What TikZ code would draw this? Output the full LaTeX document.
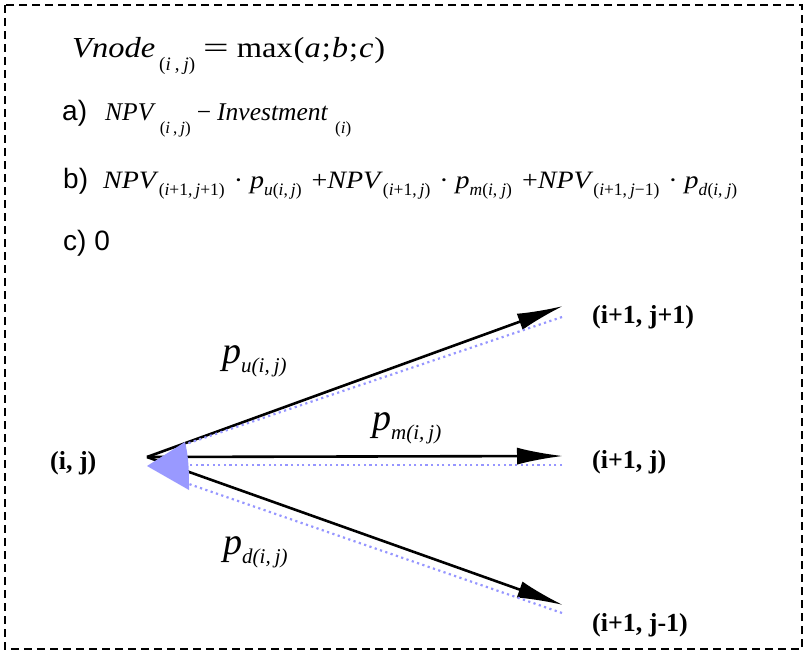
\documentclass[tikz,border=0pt]{standalone}
\usepackage{fontspec}
\setmainfont{Liberation Serif}
\newfontfamily\arialf{Liberation Sans}
\newfontfamily\widef[FakeStretch=1.12]{Liberation Serif}
\usetikzlibrary{arrows.meta}
\definecolor{dotblue}{RGB}{150,150,255}
\definecolor{triblue}{RGB}{153,153,255}
% lowered subscript: #1 = drop, #2 = size, #3 = text
\newcommand\lsub[3]{\raisebox{-#1pt}{\fontsize{#2}{#2}\selectfont #3}}
\newcommand\psub[1]{\raisebox{-9pt}{\fontsize{21}{21}\selectfont\textit{#1}}}
\newcommand\gsp{\hspace{4pt}}
\begin{document}
\begin{tikzpicture}[x=1pt,y=-1pt,
  label/.style={anchor=base west, inner sep=0pt, font=\fontsize{28}{32}\selectfont\arialf},
  formula/.style={anchor=base west, inner sep=0pt},
  statelbl/.style={anchor=west, inner sep=0pt, font=\fontsize{26}{30}\selectfont\bfseries},
  plbl/.style={anchor=base west, inner sep=0pt, font=\fontsize{38}{40}\selectfont\itshape},
  branch/.style={line width=2.6pt, -{Latex[length=46pt,width=17pt]}},
  backline/.style={dotblue, line width=2.2pt, dash pattern=on 2.2pt off 3.4pt},
  frame/.style={line width=1.6pt, dash pattern=on 8pt off 5pt}
]
\useasboundingbox (0,0) rectangle (806,653);
\draw[frame] (5,5) rectangle (802,649);

% line 1
\node[formula, font=\fontsize{29}{32}\selectfont\widef] (f0) at (72,57)
  {\textit{Vnode}\hspace{4pt}\lsub{13}{19}{\rmfamily(\textit{i}\hspace{4pt},\hspace{4pt}\textit{j})}\hspace{8pt}\scalebox{1.4}[1]{=}\hspace{8pt}max\hspace{1pt}(\textit{a}\hspace{1pt};\hspace{1pt}\textit{b}\hspace{1pt};\hspace{1pt}\textit{c}\hspace{1pt})};

% line a
\node[label] (la) at (62,120) {a)};
\node[formula, font=\fontsize{25.5}{28}\selectfont] (fa) at (105,120)
  {\textit{NPV}\hspace{4pt}\lsub{13}{17}{(\textit{i}\hspace{3pt},\hspace{3pt}\textit{j})}\hspace{6pt}−\hspace{6pt}\textit{Investment}\hspace{7pt}\lsub{13}{17}{(\textit{i})}};

% line b
\node[label] (lb) at (63,188) {b)};
\node[formula, font=\fontsize{25}{28}\selectfont\widef] (fb) at (103,188)
  {\textit{NPV}\lsub{7}{17.5}{\rmfamily(\textit{i}+1,\hspace{3pt}\textit{j}+1)}\hspace{9pt}·\hspace{7pt}\textit{p}\lsub{7}{17.5}{\rmfamily\textit{u}(\textit{i},\hspace{3pt}\textit{j})}\hspace{10pt}+\textit{NPV}\lsub{7}{17.5}{\rmfamily(\textit{i}+1,\hspace{3pt}\textit{j})}\hspace{9pt}·\hspace{7pt}\textit{p}\lsub{7}{17.5}{\rmfamily\textit{m}(\textit{i},\hspace{4pt}\textit{j})}\hspace{10pt}+\textit{NPV}\lsub{7}{17.5}{\rmfamily(\textit{i}+1,\hspace{3pt}\textit{j}−1)}\hspace{9pt}·\hspace{7pt}\textit{p}\lsub{7}{17.5}{\rmfamily\textit{d}(\textit{i},\hspace{4pt}\textit{j})}};

% line c
\node[label] (lc) at (63,250) {c) 0};

% state labels
\node[statelbl] (n0) at (50,463) {(i, j)};
\node[statelbl] (n1) at (592,317) {(i+1, j+1)};
\node[statelbl] (n2) at (592,462) {(i+1, j)};
\node[statelbl] (n3) at (592,625) {(i+1, j-1)};

% geometry
\coordinate (o) at (147,457);
\coordinate (t1) at (563,306);
\coordinate (t2) at (563,456);
\coordinate (t3) at (563,605);
\coordinate (b1s) at (562,317);
\coordinate (b2s) at (562,465);
\coordinate (b3s) at (562,613);
\coordinate (b1e) at (186,444);
\coordinate (b2e) at (186,465);
\coordinate (b3e) at (186,483);

\draw[branch] (o) -- (t1);
\draw[branch] (o) -- (t2);
\draw[branch] (o) -- (t3);
\draw[backline] (b1s) -- (b1e);
\draw[backline] (b2s) -- (b2e);
\draw[backline] (b3s) -- (b3e);
\fill[triblue] (147,466) -- (185,442) .. controls (189,458) and (189,474) .. (189,490) -- cycle;

% probability labels
\node[plbl] (pu) at (222,363) {p\psub{u(i,\gsp j)}};
\node[plbl] (pm) at (372,430) {p\psub{m(i,\gsp j)}};
\node[plbl] (pd) at (223,554) {p\psub{d(i,\gsp j)}};
\end{tikzpicture}
\end{document}
